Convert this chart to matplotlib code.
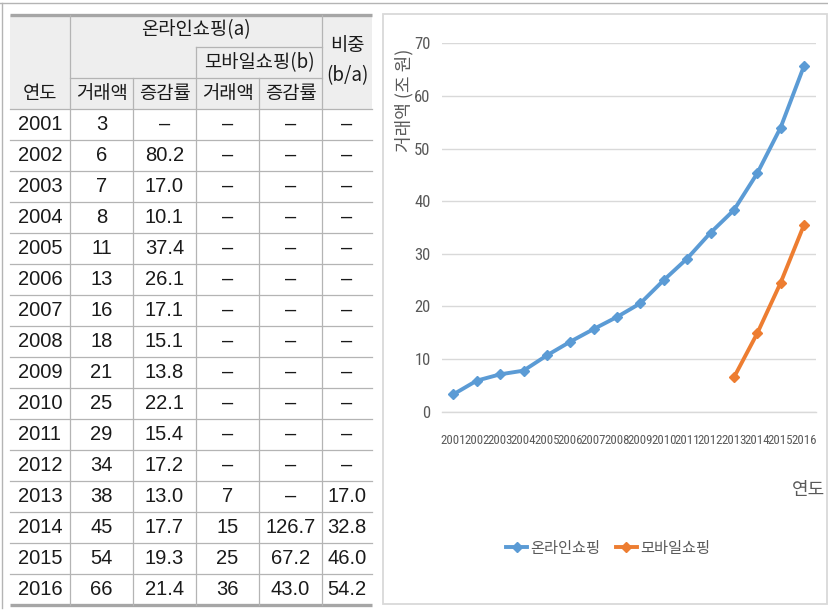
import matplotlib
matplotlib.use("Agg")
import matplotlib.pyplot as plt
from matplotlib.patches import Rectangle
from matplotlib.lines import Line2D

plt.rcParams['font.family'] = ['Noto Sans CJK KR', 'DejaVu Sans']

# ---- data ----
years = ["2001", "2002", "2003", "2004", "2005", "2006", "2007", "2008",
         "2009", "2010", "2011", "2012", "2013", "2014", "2015", "2016"]
online_amount = ["3", "6", "7", "8", "11", "13", "16", "18",
                 "21", "25", "29", "34", "38", "45", "54", "66"]
online_rate = ["–", "80.2", "17.0", "10.1", "37.4", "26.1", "17.1", "15.1",
               "13.8", "22.1", "15.4", "17.2", "13.0", "17.7", "19.3", "21.4"]
mobile_amount = ["–"] * 12 + ["7", "15", "25", "36"]
mobile_rate = ["–"] * 13 + ["126.7", "67.2", "43.0"]
mobile_share = ["–"] * 12 + ["17.0", "32.8", "46.0", "54.2"]

# chart series (조 원)
online_series = [3.3, 5.9, 7.1, 7.8, 10.7, 13.3, 15.7, 18.0,
                 20.6, 25.0, 29.1, 34.0, 38.3, 45.3, 54.0, 65.7]
mobile_years = ["2013", "2014", "2015", "2016"]
mobile_series = [6.5, 14.9, 24.5, 35.5]
y_ticks = [0, 10, 20, 30, 40, 50, 60, 70]

W, H = 829, 616
fig = plt.figure(figsize=(W / 100, H / 100), dpi=100)

# full-figure overlay in pixel units for the table and frames
bg = fig.add_axes([0, 0, 1, 1])
bg.set_xlim(0, W)
bg.set_ylim(H, 0)
bg.axis("off")

# outer frame lines
bg.plot([0, W], [2.5, 2.5], color="#b4b4b4", lw=1.0)
bg.plot([2.5, 2.5], [2.5, 608], color="#b4b4b4", lw=1.0)

# ---- table ----
col_x = [10, 70, 133, 196, 259, 322, 372]
hdr_y = [15, 47, 78, 109]
row_h = 31.0
n_rows = len(years)
bottom = hdr_y[-1] + n_rows * row_h
grid_c = "#b4b4b4"
thick_c = "#a6a6a6"

bg.add_patch(Rectangle((col_x[0], hdr_y[0]), col_x[-1] - col_x[0],
                       hdr_y[-1] - hdr_y[0], facecolor="#eeeeee",
                       edgecolor="none", zorder=0))

# horizontal lines
bg.plot([col_x[3], col_x[5]], [hdr_y[1]] * 2, color=grid_c, lw=0.9)
bg.plot([col_x[1], col_x[5]], [hdr_y[2]] * 2, color=grid_c, lw=0.9)
bg.plot([col_x[0], col_x[-1]], [hdr_y[3]] * 2, color=grid_c, lw=0.9)
for i in range(1, n_rows):
    yy = hdr_y[-1] + i * row_h
    bg.plot([col_x[0], col_x[-1]], [yy, yy], color=grid_c, lw=0.9)
bg.plot([col_x[0], col_x[-1]], [hdr_y[0], hdr_y[0]], color=thick_c, lw=2.4,
        solid_capstyle="butt")
bg.plot([col_x[0], col_x[-1]], [bottom, bottom], color=thick_c, lw=2.4,
        solid_capstyle="butt")

# vertical lines
v_start = {1: hdr_y[0], 2: hdr_y[2], 3: hdr_y[1], 4: hdr_y[2], 5: hdr_y[0]}
for k, y0 in v_start.items():
    bg.plot([col_x[k], col_x[k]], [y0, bottom], color=grid_c, lw=0.9)

hdr_font = dict(fontsize=13.5, color="#1a1a1a", ha="center", va="center",
                family=["Noto Sans CJK KR", "DejaVu Sans"])
cx = [(col_x[i] + col_x[i + 1]) / 2 for i in range(len(col_x) - 1)]
bg.text(cx[0], (hdr_y[2] + hdr_y[3]) / 2, "연도", **hdr_font)
bg.text((col_x[1] + col_x[5]) / 2, (hdr_y[0] + hdr_y[1]) / 2 - 1,
        "온라인쇼핑(a)", **hdr_font)
bg.text((col_x[3] + col_x[5]) / 2, (hdr_y[1] + hdr_y[2]) / 2,
        "모바일쇼핑(b)", **hdr_font)
bg.text(cx[5], 45, "비중", **hdr_font)
bg.text(cx[5], 76, "(b/a)", **hdr_font)
for i, lab in enumerate(["거래액", "증감률", "거래액", "증감률"]):
    bg.text(cx[i + 1], (hdr_y[2] + hdr_y[3]) / 2, lab, **hdr_font)

cell_font = dict(fontsize=14.5, color="#1a1a1a", ha="center", va="center",
                 family=["Liberation Sans", "DejaVu Sans"])
columns = [years, online_amount, online_rate, mobile_amount, mobile_rate,
           mobile_share]
for r in range(n_rows):
    yc = hdr_y[-1] + (r + 0.5) * row_h
    for c, col in enumerate(columns):
        bg.text(cx[c], yc, col[r], **cell_font)

# ---- chart ----
bg.add_patch(Rectangle((383, 14), 444, 590, facecolor="white",
                       edgecolor="#d9d9d9", lw=1.3, zorder=0))

ax_left, ax_right = 441.7, 815.7
ax_top, ax_bot = 43.3, 411.7
ax = fig.add_axes([ax_left / W, (H - ax_bot) / H, (ax_right - ax_left) / W,
                   (ax_bot - ax_top) / H])
ax.set_facecolor("none")

xpos = list(range(len(years)))
mob_pos = [years.index(y) for y in mobile_years]
blue, orange = "#5b9bd5", "#ed7d31"
ax.plot(xpos, online_series, color=blue, lw=2.8, marker="D", ms=5,
        clip_on=False, zorder=3)
ax.plot(mob_pos, mobile_series, color=orange, lw=2.8, marker="D", ms=5,
        clip_on=False, zorder=3)

ax.set_xlim(-0.5, len(years) - 0.5)
ax.set_ylim(0, 70)
ax.set_yticks(y_ticks)
ax.set_xticks(xpos)
narrow = ["Liberation Sans Narrow", "Roboto Condensed", "Open Sans Condensed",
          "DejaVu Sans"]
ax.set_xticklabels(years, fontsize=9.3, color="#595959", family=narrow)
ax.set_yticklabels([str(v) for v in y_ticks], fontsize=12, color="#595959",
                   family=narrow)
ax.tick_params(axis="x", length=0, pad=16)
ax.tick_params(axis="y", length=0, pad=8)
ax.grid(axis="y", color="#d9d9d9", lw=1.0)
ax.set_axisbelow(True)
for s in ["top", "right", "left"]:
    ax.spines[s].set_visible(False)
ax.spines["bottom"].set_color("#d9d9d9")
ax.spines["bottom"].set_linewidth(1.0)

fig.text(404 / W, 1 - 100 / H, "거래액 (조 원)", rotation=90, fontsize=13,
         color="#595959", ha="center", va="center")
fig.text(809 / W, 1 - 490 / H, "연도", fontsize=13, color="#595959",
         ha="center", va="center")

handles = [Line2D([], [], color=blue, lw=2.8, marker="D", ms=5),
           Line2D([], [], color=orange, lw=2.8, marker="D", ms=5)]
fig.legend(handles, ["온라인쇼핑", "모바일쇼핑"], loc="center",
           bbox_to_anchor=(608 / W, 1 - 548 / H), ncol=2, frameon=False,
           fontsize=11, labelcolor="#595959", handlelength=1.4,
           handletextpad=0.2, columnspacing=1.0)

fig.savefig("out.png", dpi=100)
